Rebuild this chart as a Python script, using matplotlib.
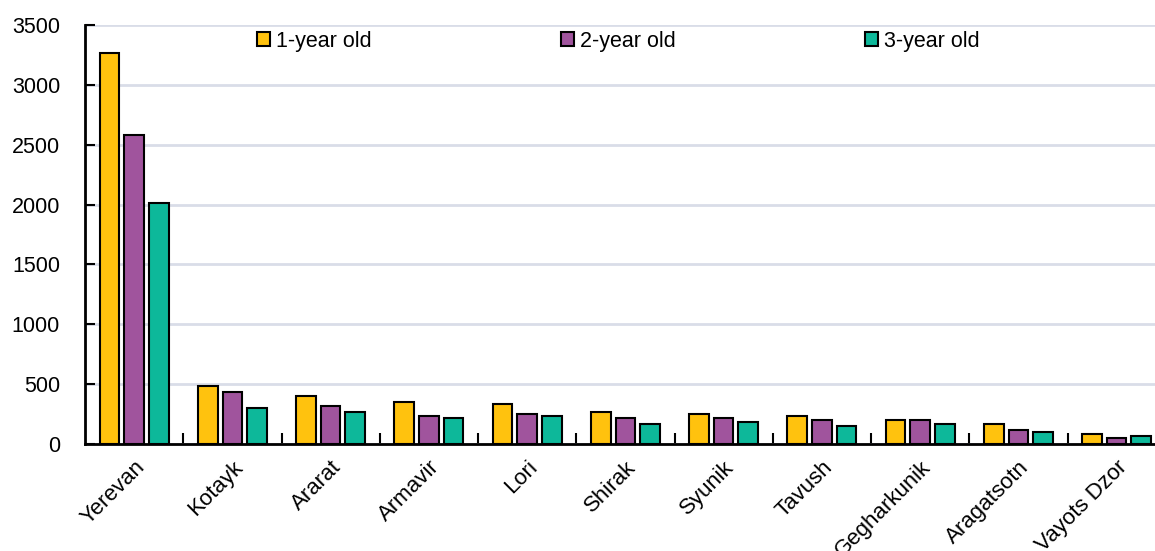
import matplotlib
matplotlib.use("Agg")
import matplotlib.pyplot as plt
import numpy as np
from matplotlib.ticker import FixedLocator, NullFormatter

regions = ["Yerevan", "Kotayk", "Ararat", "Armavir", "Lori", "Shirak",
           "Syunik", "Tavush", "Gegharkunik", "Aragatsotn", "Vayots Dzor"]
one_year = [3265, 483, 399, 349, 332, 265, 249, 232, 198, 165, 81]
two_year = [2580, 433, 316, 232, 251, 221, 218, 198, 198, 115, 47]
three_year = [2015, 302, 265, 218, 232, 168, 182, 151, 165, 98, 67]
series_names = ["1-year old", "2-year old", "3-year old"]
colors = ["#FFC20E", "#A0549D", "#0DB89A"]

plt.rcParams["font.family"] = ["Liberation Sans", "DejaVu Sans"]

fig = plt.figure(figsize=(11.55, 5.51), dpi=100)
ax = fig.add_axes([85 / 1155, 107 / 551, 1070 / 1155, 419 / 551])

x = np.arange(len(regions))
step = 0.25
width = 0.2
for i, (vals, name, col) in enumerate(zip([one_year, two_year, three_year], series_names, colors)):
    ax.bar(x + (i - 1) * step, vals, width, color=col, edgecolor="black",
           linewidth=1.5, label=name, zorder=3)

ax.set_ylim(0, 3500)
ax.set_xlim(-0.5, -0.5 + 1070 / 98.25)
ax.set_yticks(np.arange(0, 3501, 500))
ax.yaxis.grid(True, color="#D9DDE8", linewidth=2, zorder=0)
ax.tick_params(axis="y", direction="in", length=7, width=1.5, labelsize=15.5, pad=18)

ax.set_xticks(x)
ax.set_xticklabels(regions, rotation=45, ha="right", va="top",
                   rotation_mode="anchor", fontsize=16)
ax.tick_params(axis="x", which="major", length=0, pad=9)
ax.xaxis.set_minor_locator(FixedLocator(x[:-1] + 0.5))
ax.xaxis.set_minor_formatter(NullFormatter())
ax.tick_params(axis="x", which="minor", direction="in", length=8, width=1.5)

for side in ["top", "right"]:
    ax.spines[side].set_visible(False)
for side in ["left", "bottom"]:
    ax.spines[side].set_linewidth(2)

leg = fig.legend(loc="center left", bbox_to_anchor=(257 / 1155, 1 - 41 / 551),
                 ncol=3, frameon=False, fontsize=15.5, handlelength=0.6,
                 handleheight=0.6, handletextpad=0.3, columnspacing=8.77,
                 borderpad=0, borderaxespad=0)

fig.savefig("out.png", dpi=100)
